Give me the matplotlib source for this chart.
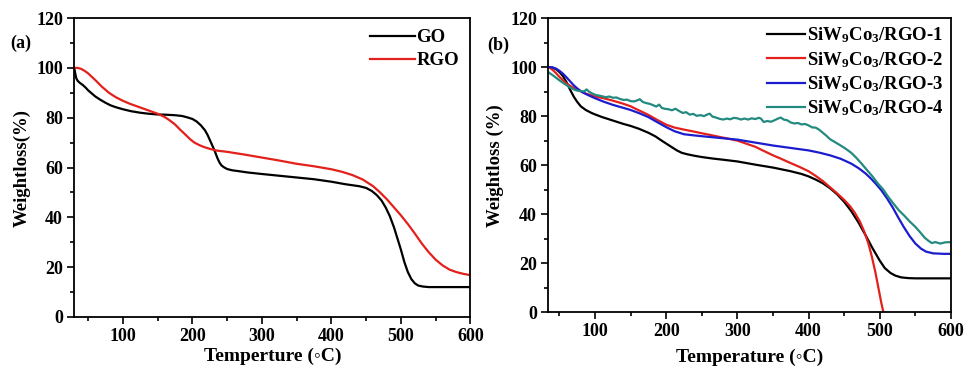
import matplotlib
matplotlib.use('Agg')
import matplotlib.pyplot as plt
from matplotlib.ticker import MultipleLocator

plt.rcParams['font.family'] = ['Liberation Serif', 'DejaVu Sans']
plt.rcParams['font.weight'] = 'bold'
plt.rcParams['mathtext.fontset'] = 'custom'
plt.rcParams['mathtext.rm'] = 'Liberation Serif:bold'
plt.rcParams['mathtext.bf'] = 'Liberation Serif:bold'
plt.rcParams['mathtext.default'] = 'bf'

# ---- panel (a) data: GO / RGO ----
go_t = [30, 31, 32, 33, 35, 38, 42, 46, 50, 55, 60, 67, 75, 82, 90, 100, 112,
        125, 137, 150, 162, 175, 185, 192, 200, 206, 212, 218, 222, 226, 230,
        233, 236, 239, 242, 246, 250, 257, 265, 280, 300, 325, 350, 375, 400,
        420, 440, 450, 458, 465, 472, 478, 484, 490, 495, 500, 505, 510, 515,
        520, 525, 532, 540, 560, 580, 600]
go_w = [100, 98.5, 97, 95.8, 94.8, 94, 93.2, 92.2, 91, 89.8, 88.6, 87.3, 86,
        85, 84.2, 83.4, 82.6, 82, 81.6, 81.3, 81.2, 81, 80.7, 80.2, 79.5, 78.5,
        77, 75, 73, 70.5, 68, 66, 63.8, 62, 60.8, 60, 59.4, 58.9, 58.6, 58,
        57.4, 56.7, 56, 55.3, 54.3, 53.3, 52.5, 51.8, 50.6, 49, 46.8, 44,
        40.5, 36, 31.5, 27, 22, 18, 15.2, 13.5, 12.6, 12.2, 12, 12, 12, 12]
rgo_t = [30, 35, 40, 45, 50, 55, 60, 65, 70, 80, 90, 100, 110, 120, 130, 140,
         150, 160, 167, 175, 182, 190, 197, 203, 210, 217, 225, 235, 250, 275,
         300, 325, 350, 375, 400, 415, 430, 445, 460, 470, 480, 490, 500, 510,
         520, 530, 540, 550, 560, 570, 580, 590, 600]
rgo_w = [100, 100, 99.6, 98.8, 97.8, 96.5, 95.2, 93.8, 92.4, 90, 88.2, 86.8,
         85.6, 84.6, 83.6, 82.6, 81.6, 80.3, 79, 77.3, 75.3, 73.2, 71.3, 70,
         69, 68.2, 67.5, 66.8, 66.3, 65.2, 64, 62.8, 61.5, 60.5, 59.3, 58.3,
         57, 55.2, 52.5, 50, 47.2, 44, 40.8, 37.3, 33.5, 29.5, 26, 23, 20.7,
         19, 18, 17.3, 16.8]

# ---- panel (b) data: SiW9Co3/RGO-1..4 ----
s1_t = [35, 40, 45, 50, 55, 60, 65, 70, 75, 80, 87, 95, 100, 110, 125, 140,
        150, 162, 175, 185, 192, 200, 208, 215, 222, 230, 240, 250, 265, 280,
        300, 325, 350, 375, 390, 400, 410, 420, 430, 440, 450, 460, 470, 480,
        490, 500, 507, 515, 522, 530, 540, 550, 575, 600]
s1_w = [100, 99.8, 99.2, 98, 96.3, 93.8, 90.8, 88, 85.8, 84, 82.5, 81.3, 80.7,
        79.6, 78.2, 76.8, 76, 74.8, 73.2, 71.7, 70.3, 68.8, 67.3, 66, 65,
        64.4, 63.8, 63.3, 62.7, 62.2, 61.5, 60.2, 59, 57.5, 56.4, 55.4, 54.1,
        52.6, 50.6, 48.1, 45, 41.2, 36.6, 31.4, 26, 21, 18, 16, 14.9, 14.2,
        13.9, 13.8, 13.8, 13.8]
s2_t = [35, 40, 45, 50, 55, 60, 67, 75, 85, 100, 112, 125, 137, 150, 162, 175,
        187, 200, 212, 225, 237, 250, 262, 275, 287, 300, 312, 325, 337, 350,
        362, 375, 387, 400, 410, 420, 430, 440, 450, 458, 465, 472, 478, 484,
        489, 494, 498, 502, 505]
s2_w = [100, 99, 97.6, 96, 94.6, 93.3, 92, 90.8, 89.4, 88, 87.3, 86.3, 85.3,
        84, 82.3, 80.5, 78.5, 76.5, 75.3, 74.5, 73.8, 73, 72.3, 71.5, 70.8, 70,
        68.8, 67.5, 65.8, 64, 62.5, 60.8, 59.3, 57.5, 55.6, 53.5, 51, 48.5,
        45.8, 43.3, 40.5, 37, 33, 28, 22.5, 16, 10, 4, 0]
s3_t = [35, 40, 45, 50, 55, 60, 65, 70, 75, 82, 90, 100, 112, 125, 137, 150,
        162, 175, 187, 200, 212, 225, 237, 250, 275, 300, 325, 350, 375, 400,
        415, 430, 445, 460, 470, 480, 488, 495, 502, 510, 518, 526, 534, 542,
        550, 558, 565, 575, 590, 600]
s3_w = [100, 99.9, 99.4, 98.5, 97.3, 95.8, 94.2, 92.6, 91.3, 89.8, 88.6, 87.3,
        85.9, 84.6, 83.6, 82.5, 81.2, 79.6, 77.6, 75.5, 73.8, 72.6, 72.2, 71.8,
        71.1, 70.4, 69.2, 68, 67, 66, 65.1, 64, 62.6, 60.6, 58.8, 56.6, 54.4,
        52.2, 49.8, 46.5, 42.8, 38.6, 34.6, 31, 28, 25.9, 24.7, 24, 23.8, 23.8]
s4_t = [35, 40, 45, 50, 55, 60, 65, 70, 75, 80, 85, 88, 92, 95, 100, 105, 110,
        115, 120, 125, 130, 135, 140, 145, 150, 155, 160, 163, 167, 172, 177,
        182, 186, 190, 194, 198, 203, 208, 213, 218, 223, 228, 233, 238, 243,
        248, 253, 258, 261, 265, 270, 275, 280, 285, 290, 295, 300, 305, 310,
        315, 320, 325, 330, 333, 337, 342, 347, 352, 357, 361, 365, 370, 375,
        380, 385, 390, 395, 400, 405, 410, 415, 420, 425, 430, 437, 445, 452,
        460, 467, 475, 482, 490, 497, 505, 512, 520, 527, 535, 542, 550, 557,
        563, 568, 573, 578, 585, 592, 600]
s4_w = [97.8, 96.8, 95.7, 94.6, 93.6, 92.6, 91.7, 90.9, 90.4, 90.2, 90.1,
        90.9, 89.9, 89.4, 88.7, 88.4, 88.1, 87.7, 88.0, 87.5, 87.6, 87.0, 86.6,
        86.7, 86.1, 86.0, 86.5, 86.9, 85.8, 85.3, 85.0, 84.4, 83.9, 84.7, 83.3,
        83.0, 82.8, 82.4, 83.0, 82.1, 81.3, 81.6, 80.6, 80.9, 80.1, 80.4, 80.0,
        80.7, 81.0, 79.8, 79.4, 78.9, 78.6, 79.0, 78.7, 79.3, 79.1, 78.6, 79.0,
        78.6, 79.1, 78.8, 79.3, 79.0, 77.6, 78.0, 77.7, 78.3, 79.0, 79.4, 78.6,
        78.3, 77.4, 77.0, 77.2, 76.6, 76.8, 76.2, 75.4, 75.3, 74.4, 73.2, 72.0,
        70.6, 69.4, 68.0, 66.7, 65.0, 63.0, 60.4, 58.0, 55.3, 52.6, 50.0, 47.0,
        44.0, 41.5, 39.2, 37.0, 34.8, 32.5, 30.4, 29.2, 28.2, 28.6, 28.0, 28.5,
        28.6]

fig = plt.figure(figsize=(9.64, 3.69), dpi=100)
ax1 = fig.add_axes([0.077, 0.141, 0.411, 0.810])
ax2 = fig.add_axes([0.5685, 0.154, 0.418, 0.797])

ax1.plot(go_t, go_w, color='black', lw=1.6, label='GO')
ax1.plot(rgo_t, rgo_w, color='#e3201b', lw=1.6, label='RGO')
ax1.set_xlim(30, 600)

ax2.plot(s1_t, s1_w, color='black', lw=1.6, label='SiW$_9$Co$_3$/RGO-1')
ax2.plot(s2_t, s2_w, color='#e3201b', lw=1.6, label='SiW$_9$Co$_3$/RGO-2')
ax2.plot(s3_t, s3_w, color='#1c1ccf', lw=1.6, label='SiW$_9$Co$_3$/RGO-3')
ax2.plot(s4_t, s4_w, color='#238a80', lw=1.6, label='SiW$_9$Co$_3$/RGO-4')
ax2.set_xlim(34, 600)

for ax in (ax1, ax2):
    ax.set_ylim(0, 120)
    ax.xaxis.set_major_locator(MultipleLocator(100))
    ax.xaxis.set_minor_locator(MultipleLocator(50))
    ax.yaxis.set_major_locator(MultipleLocator(20))
    ax.yaxis.set_minor_locator(MultipleLocator(10))
    ax.tick_params(which='both', direction='out', width=1.2)
    ax.tick_params(which='major', length=5, labelsize=13, pad=3)
    ax.tick_params(which='minor', length=3)
    for s in ax.spines.values():
        s.set_linewidth(1.3)
    for lab in ax.get_xticklabels() + ax.get_yticklabels():
        lab.set_fontweight('bold')

ax1.set_xlabel('Temperture (\u25e6C)', fontsize=14, fontweight='bold', labelpad=2)
ax1.set_ylabel('Weightloss(%)', fontsize=13.5, fontweight='bold', labelpad=4)
ax2.set_xlabel('Temperature (\u25e6C)', fontsize=14, fontweight='bold', labelpad=6)
ax2.set_ylabel('Weightloss (%)', fontsize=13.5, fontweight='bold', labelpad=4)

ax1.legend(loc='upper right', frameon=False, handlelength=2.4,
           handletextpad=0.1, labelspacing=0.3, borderaxespad=0.2,
           prop={'weight': 'bold', 'size': 13.5})
ax2.legend(loc='upper right', frameon=False, handlelength=2.0,
           handletextpad=0.1, labelspacing=0.25, borderaxespad=0.0,
           prop={'weight': 'bold', 'size': 13.5})

fig.text(0.011, 0.87, '(a)', fontsize=13, fontweight='bold')
fig.text(0.505, 0.865, '(b)', fontsize=13, fontweight='bold')

fig.savefig('out.png', dpi=100)
